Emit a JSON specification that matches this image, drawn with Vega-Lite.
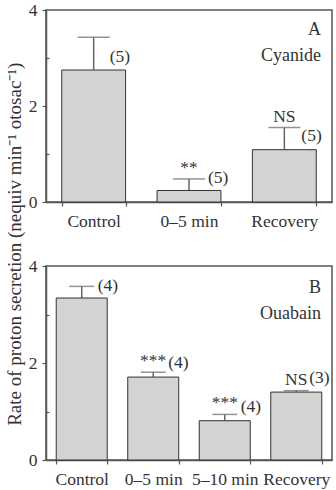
{
  "$schema": "https://vega.github.io/schema/vega-lite/v6.json",
  "padding": {"left": 5, "top": 0, "right": 0, "bottom": 0},
  "background": "white",
  "title": {
    "text": "Rate of proton secretion (nequiv min⁻¹ otosac⁻¹)",
    "orient": "left",
    "anchor": "middle",
    "font": "Liberation Serif",
    "fontSize": 19,
    "fontWeight": "normal",
    "color": "#333",
    "offset": 3
  },
  "spacing": 25,
  "config": {
    "font": "Liberation Serif",
    "view": {"stroke": "#555", "strokeWidth": 1.5},
    "axis": {
      "domainColor": "#555",
      "domainWidth": 1.5,
      "tickColor": "#555",
      "tickWidth": 1.2,
      "labelFont": "Liberation Serif",
      "labelFontSize": 17.5,
      "labelColor": "#333",
      "grid": false
    },
    "text": {"font": "Liberation Serif", "fontSize": 17.5, "color": "#333"},
    "title": {"font": "Liberation Serif", "subtitleFont": "Liberation Serif"}
  },
  "vconcat": [
    {
      "width": 286,
      "height": 192,
      "title": {
        "text": "A",
        "subtitle": "Cyanide",
        "anchor": "end",
        "frame": "group",
        "offset": -64,
        "dx": -11,
        "fontSize": 18,
        "subtitleFontSize": 18,
        "subtitlePadding": 8,
        "fontWeight": "normal",
        "color": "#333",
        "subtitleColor": "#333"
      },
      "data": {
        "values": [
          {"cond": "Control", "mean": 2.75, "upper": 3.43, "n": "(5)", "sig": ""},
          {"cond": "0–5 min", "mean": 0.24, "upper": 0.48, "n": "(5)", "sig": "**"},
          {"cond": "Recovery", "mean": 1.09, "upper": 1.55, "n": "(5)", "sig": "NS"}
        ]
      },
      "encoding": {
        "x": {
          "field": "cond",
          "type": "nominal",
          "sort": ["Control", "0–5 min", "Recovery"],
          "scale": {"paddingInner": 0.33, "paddingOuter": 0.165},
          "axis": {"title": null, "labelAngle": 0, "tickBand": "extent", "tickSize": 4, "labelPadding": 6}
        }
      },
      "layer": [
        {
          "mark": {"type": "rule", "color": "#666", "strokeWidth": 1.5},
          "encoding": {
            "y": {"field": "mean", "type": "quantitative", "axis": {"title": null}},
            "y2": {"field": "upper"}
          }
        },
        {
          "mark": {"type": "tick", "orient": "horizontal", "size": 32, "thickness": 1.5, "color": "#666"},
          "encoding": {"y": {"field": "upper", "type": "quantitative", "axis": {"title": null}}}
        },
        {
          "mark": {"type": "bar", "fill": "#d3d3d3", "stroke": "#333", "strokeWidth": 1},
          "encoding": {
            "y": {
              "field": "mean",
              "type": "quantitative",
              "scale": {"domain": [0, 4], "nice": false},
              "axis": {
                "title": null,
                "values": [0, 1, 2, 3, 4],
                "labelExpr": "datum.value % 2 == 0 ? datum.label : ''",
                "tickSize": {"condition": {"test": "datum.value % 2 == 1", "value": -3}, "value": 4},
                "labelPadding": 5
              }
            }
          }
        },
        {
          "transform": [{"filter": "datum.sig != ''"}],
          "mark": {"type": "text", "align": "center", "baseline": "alphabetic", "dy": -6},
          "encoding": {"y": {"field": "upper", "type": "quantitative"}, "text": {"field": "sig"}}
        },
        {
          "transform": [{"filter": "datum.cond == 'Control'"}],
          "mark": {"type": "text", "align": "left", "baseline": "middle", "dx": 16, "dy": 20},
          "encoding": {"y": {"field": "upper", "type": "quantitative"}, "text": {"field": "n"}}
        },
        {
          "transform": [{"filter": "datum.cond == '0–5 min'"}],
          "mark": {"type": "text", "align": "left", "baseline": "middle", "dx": 19, "dy": -1},
          "encoding": {"y": {"field": "upper", "type": "quantitative"}, "text": {"field": "n"}}
        },
        {
          "transform": [{"filter": "datum.cond == 'Recovery'"}],
          "mark": {"type": "text", "align": "left", "baseline": "middle", "dx": 17, "dy": 8},
          "encoding": {"y": {"field": "upper", "type": "quantitative"}, "text": {"field": "n"}}
        }
      ]
    },
    {
      "width": 286,
      "height": 194,
      "title": {
        "text": "B",
        "subtitle": "Ouabain",
        "anchor": "end",
        "frame": "group",
        "offset": -66,
        "dx": -11,
        "fontSize": 18,
        "subtitleFontSize": 18,
        "subtitlePadding": 8,
        "fontWeight": "normal",
        "color": "#333",
        "subtitleColor": "#333"
      },
      "data": {
        "values": [
          {"cond": "Control", "mean": 3.34, "upper": 3.58, "n": "(4)", "sig": ""},
          {"cond": "0–5 min", "mean": 1.71, "upper": 1.81, "n": "(4)", "sig": "***"},
          {"cond": "5–10 min", "mean": 0.81, "upper": 0.94, "n": "(4)", "sig": "***"},
          {"cond": "Recovery", "mean": 1.40, "upper": 1.43, "n": "(3)", "sig": "NS"}
        ]
      },
      "encoding": {
        "x": {
          "field": "cond",
          "type": "nominal",
          "sort": ["Control", "0–5 min", "5–10 min", "Recovery"],
          "scale": {"paddingInner": 0.287, "paddingOuter": 0.143},
          "axis": {"title": null, "labelAngle": 0, "tickBand": "extent", "tickSize": 4, "labelPadding": 6}
        }
      },
      "layer": [
        {
          "mark": {"type": "rule", "color": "#666", "strokeWidth": 1.5},
          "encoding": {
            "y": {"field": "mean", "type": "quantitative", "axis": {"title": null}},
            "y2": {"field": "upper"}
          }
        },
        {
          "mark": {"type": "tick", "orient": "horizontal", "size": 25, "thickness": 1.5, "color": "#666"},
          "encoding": {"y": {"field": "upper", "type": "quantitative", "axis": {"title": null}}}
        },
        {
          "mark": {"type": "bar", "fill": "#d3d3d3", "stroke": "#333", "strokeWidth": 1},
          "encoding": {
            "y": {
              "field": "mean",
              "type": "quantitative",
              "scale": {"domain": [0, 4], "nice": false},
              "axis": {
                "title": null,
                "values": [0, 1, 2, 3, 4],
                "labelExpr": "datum.value % 2 == 0 ? datum.label : ''",
                "tickSize": {"condition": {"test": "datum.value % 2 == 1", "value": -3}, "value": 4},
                "labelPadding": 5
              }
            }
          }
        },
        {
          "transform": [{"filter": "datum.sig != ''"}],
          "mark": {"type": "text", "align": "center", "baseline": "alphabetic", "dy": -6},
          "encoding": {"y": {"field": "upper", "type": "quantitative"}, "text": {"field": "sig"}}
        },
        {
          "transform": [{"filter": "datum.cond == 'Control'"}],
          "mark": {"type": "text", "align": "left", "baseline": "middle", "dx": 16, "dy": 0},
          "encoding": {"y": {"field": "upper", "type": "quantitative"}, "text": {"field": "n"}}
        },
        {
          "transform": [{"filter": "datum.cond == '0–5 min'"}],
          "mark": {"type": "text", "align": "left", "baseline": "middle", "dx": 15, "dy": -9},
          "encoding": {"y": {"field": "upper", "type": "quantitative"}, "text": {"field": "n"}}
        },
        {
          "transform": [{"filter": "datum.cond == '5–10 min'"}],
          "mark": {"type": "text", "align": "left", "baseline": "middle", "dx": 16, "dy": -7},
          "encoding": {"y": {"field": "upper", "type": "quantitative"}, "text": {"field": "n"}}
        },
        {
          "transform": [{"filter": "datum.cond == 'Recovery'"}],
          "mark": {"type": "text", "align": "left", "baseline": "middle", "dx": 13, "dy": -13},
          "encoding": {"y": {"field": "upper", "type": "quantitative"}, "text": {"field": "n"}}
        }
      ]
    }
  ]
}
